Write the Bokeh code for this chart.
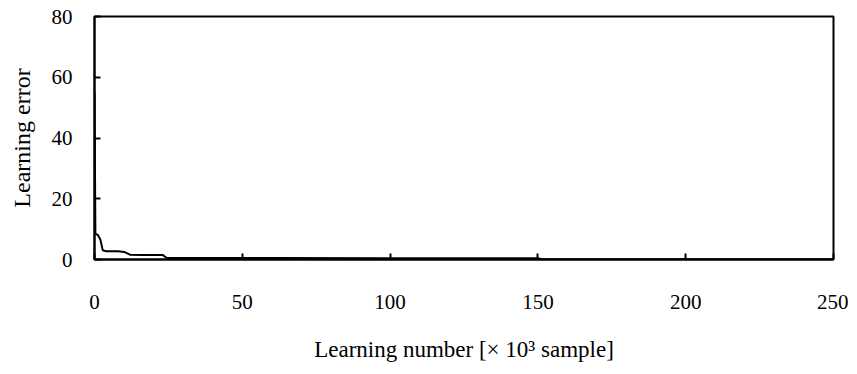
from bokeh.plotting import figure
from bokeh.models import Range1d, FixedTicker
from bokeh.embed import file_html
from bokeh.resources import INLINE

# Learning number [x10^3 sample]
learning_number = [0, 0.3, 1.2, 2.0, 2.8, 4, 8, 10, 12, 16, 23, 24.5, 60, 100, 150, 151, 200, 250]
# Learning error
learning_error = [55, 8.5, 8, 6.5, 3, 2.7, 2.7, 2.5, 1.6, 1.5, 1.5, 0.5, 0.5, 0.45, 0.4, 0.15, 0.1, 0.1]

x_ticks = [0, 50, 100, 150, 200, 250]
y_ticks = [0, 20, 40, 60, 80]

FONT = "Liberation Serif"

p = figure(width=848, height=364, output_backend="svg", toolbar_location=None,
           x_range=Range1d(0, 250), y_range=Range1d(0, 80),
           min_border_left=94, min_border_right=15, min_border_top=16, min_border_bottom=101)

p.line(learning_number, learning_error, line_color="black", line_width=2)

p.grid.visible = False
p.outline_line_color = "black"
p.outline_line_width = 2
p.outline_line_alpha = 1

for ax in (p.xaxis[0], p.yaxis[0]):
    ax.axis_line_color = "black"
    ax.axis_line_width = 2
    ax.major_tick_in = 6
    ax.major_tick_out = 0
    ax.major_tick_line_width = 2
    ax.major_tick_line_color = "black"
    ax.minor_tick_line_color = None
    ax.major_label_text_font = FONT
    ax.major_label_text_font_size = "21px"
    ax.major_label_text_color = "black"
    ax.axis_label_text_font = FONT
    ax.axis_label_text_font_style = "normal"
    ax.axis_label_text_color = "black"

p.xaxis.ticker = FixedTicker(ticks=x_ticks)
p.yaxis.ticker = FixedTicker(ticks=y_ticks)
p.xaxis.major_label_standoff = 35
p.yaxis.major_label_standoff = 22
p.xaxis.axis_label = "Learning number [\u00d7 10\u00b3 sample]"
p.yaxis.axis_label = "Learning error"
p.xaxis.axis_label_text_font_size = "23px"
p.yaxis.axis_label_text_font_size = "24px"
p.xaxis.axis_label_standoff = 25
p.yaxis.axis_label_standoff = 14

open("out.html", "w").write(file_html(p, INLINE))
